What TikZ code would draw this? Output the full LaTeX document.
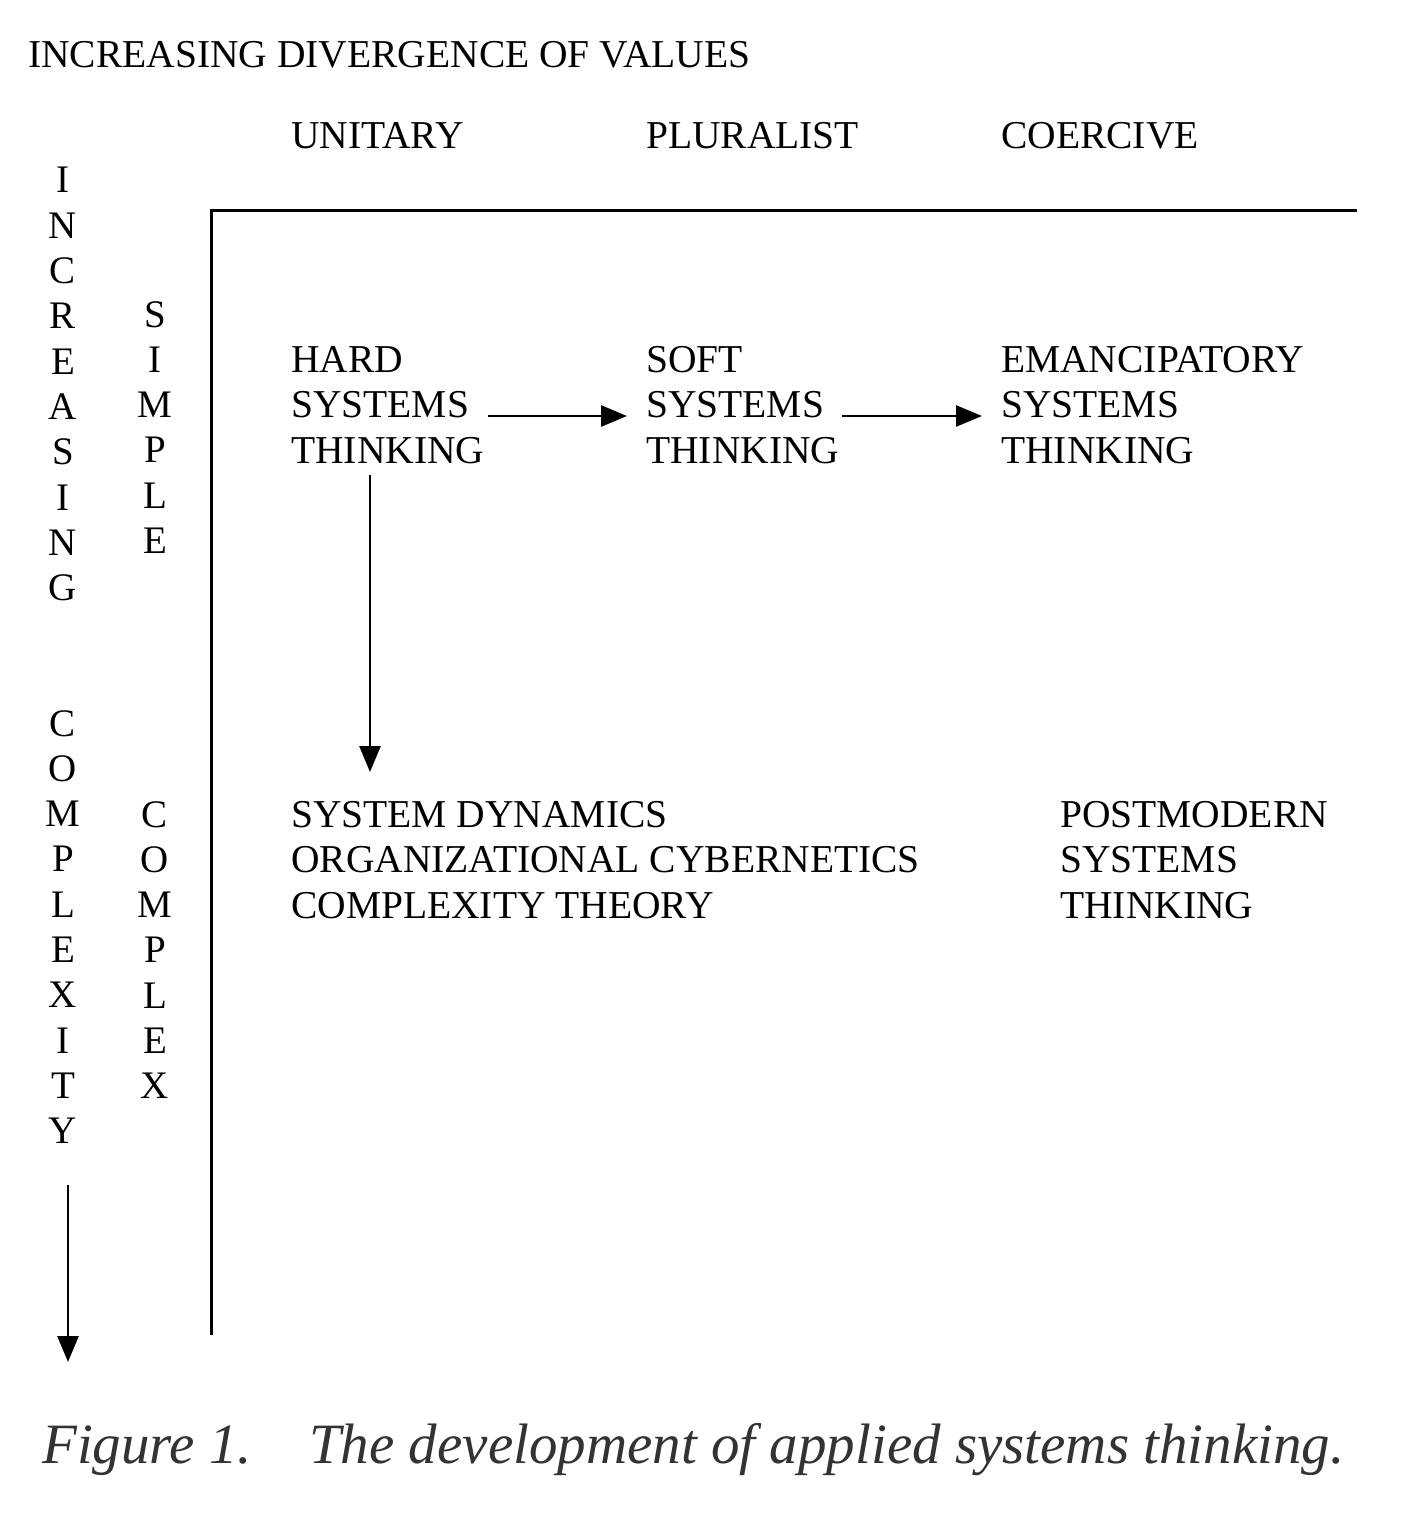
\documentclass[tikz,border=0pt]{standalone}
\usepackage{fontspec}
\setmainfont{Liberation Serif}
\usetikzlibrary{arrows.meta}
\begin{document}
\begin{tikzpicture}[x=1pt,y=-1pt,
  t/.style={anchor=base west,inner sep=0pt,font=\fontsize{39.5}{45.3}\selectfont},
  l/.style={anchor=base,inner sep=0pt,font=\fontsize{39}{45}\selectfont},
  ar/.style={line width=2.6pt,-{Triangle[length=26pt,width=21pt]}}]
\useasboundingbox (0,0) rectangle (1400,1517);
\node[t] (title) at (28,68) {INCREASING DIVERGENCE OF VALUES};
\node[t] (u) at (291,149) {UNITARY};
\node[t] (p) at (646,149) {PLURALIST};
\node[t] (c) at (1001,149) {COERCIVE};
\draw[line width=3pt] (1357,210) coordinate (fr) -- (211,210) coordinate (fc) -- (211,1335) coordinate (fb);
\foreach \ch [count=\i from 0] in {I,N,C,R,E,A,S,I,N,G}
  \node[l] (a\i) at (63,193+45.3*\i) {\ch};
\foreach \ch [count=\i from 0] in {C,O,M,P,L,E,X,I,T,Y}
  \node[l] (b\i) at (63,736+45.3*\i) {\ch};
\foreach \ch [count=\i from 0] in {S,I,M,P,L,E}
  \node[l] (s\i) at (155,327+45.3*\i) {\ch};
\foreach \ch [count=\i from 0] in {C,O,M,P,L,E,X}
  \node[l] (x\i) at (155,827+45.3*\i) {\ch};
\coordinate (la1) at (68,1185); \coordinate (la2) at (68,1362);
\draw[ar] (la1) -- (la2);
\node[t,align=left] (hard) at (291,463) {HARD\\SYSTEMS\\THINKING};
\node[t,align=left] (soft) at (646,463) {SOFT\\SYSTEMS\\THINKING};
\node[t,align=left] (eman) at (1001,463) {EMANCIPATORY\\SYSTEMS\\THINKING};
\node[t,align=left] (sd) at (291,918) {SYSTEM DYNAMICS\\ORGANIZATIONAL CYBERNETICS\\COMPLEXITY THEORY};
\node[t,align=left] (pm) at (1060,918) {POSTMODERN\\SYSTEMS\\THINKING};
\coordinate (h1) at (488,416); \coordinate (h2) at (627,416);
\coordinate (s1) at (842,416); \coordinate (s2) at (982,416);
\coordinate (d1) at (370,475); \coordinate (d2) at (370,772);
\draw[ar] (h1) -- (h2);
\draw[ar] (s1) -- (s2);
\draw[ar] (d1) -- (d2);
\node[anchor=base west,inner sep=0pt,font=\fontsize{57}{66}\selectfont\itshape,text=black!80] (cap) at (42,1463) {Figure 1.\quad The development of applied systems thinking.};
\end{tikzpicture}
\end{document}
